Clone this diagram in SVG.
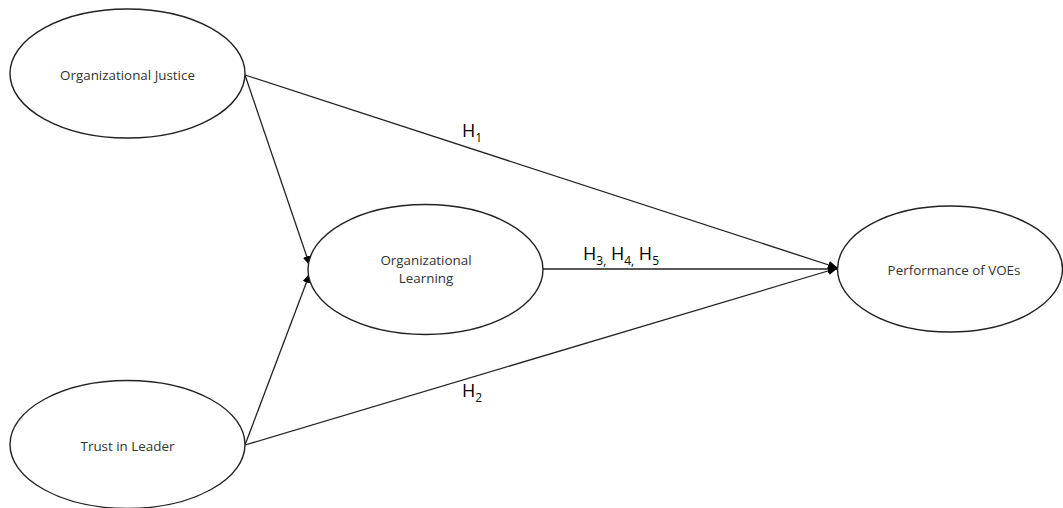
<svg xmlns="http://www.w3.org/2000/svg" width="1063" height="508" viewBox="0 0 1063 508">
<defs>
<marker id="arr" markerUnits="userSpaceOnUse" markerWidth="10" markerHeight="10" viewBox="0 0 10 10" refX="10" refY="5" orient="auto">
<path d="M0,1 L10,5 L0,9 z" fill="#000"/>
</marker>
<style>
.node ellipse{fill:#fff;stroke:#222;stroke-width:1.4}
.node text{font-family:"Open Sans","Liberation Sans",sans-serif;font-size:13.4px;fill:#333;text-anchor:middle}
.conn line{stroke:#222;stroke-width:1.3;marker-end:url(#arr)}
.lab{font-family:"Open Sans","Liberation Sans",sans-serif;font-size:18px;fill:#000}
.sub{font-size:12px}
</style>
</defs>
<rect width="1063" height="508" fill="#fff"/>
<g class="conn">
<line x1="245" y1="75" x2="310" y2="266"/>
<line x1="245" y1="445" x2="310" y2="273"/>
<line x1="245" y1="75" x2="838" y2="268"/>
<line x1="245" y1="445" x2="838" y2="268"/>
<line x1="543" y1="269" x2="838" y2="269"/>
</g>
<g id="oj" class="node">
<ellipse cx="127.5" cy="73.5" rx="117.5" ry="64.5"/>
<text x="127.5" y="80">Organizational Justice</text>
</g>
<g id="tl" class="node">
<ellipse cx="127.5" cy="444.5" rx="117.5" ry="64"/>
<text x="127.5" y="451">Trust in Leader</text>
</g>
<g id="ol" class="node">
<ellipse cx="425.5" cy="269.5" rx="117.5" ry="65"/>
<text x="426" y="265">Organizational</text>
<text x="426" y="283">Learning</text>
</g>
<g id="pv" class="node">
<ellipse cx="950" cy="269" rx="112.5" ry="63"/>
<text x="954" y="275">Performance of VOEs</text>
</g>
<g id="labels">
<text class="lab" x="462" y="137">H<tspan class="sub" dy="5">1</tspan></text>
<text class="lab" x="462" y="397">H<tspan class="sub" dy="5">2</tspan></text>
<text class="lab" x="583" y="260">H<tspan class="sub" dy="5">3,</tspan><tspan dy="-5"> H</tspan><tspan class="sub" dy="5">4,</tspan><tspan dy="-5"> H</tspan><tspan class="sub" dy="5">5</tspan></text>
</g>
</svg>
